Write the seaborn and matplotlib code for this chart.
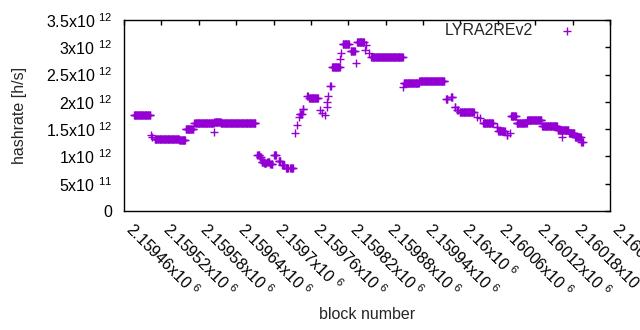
import numpy as np
import matplotlib
matplotlib.use("Agg")
from matplotlib import pyplot as plt
import seaborn as sns

# hashrate plateaus: block range (start..end inclusive) and hashrate in units of 1e12 h/s
seg_start = [2159476, 2159503, 2159505, 2159509, 2159549, 2159559, 2159573, 2159605, 2159605, 2159615,
             2159674, 2159678, 2159681, 2159685, 2159690, 2159695, 2159701, 2159708, 2159714, 2159720, 2159727,
             2159735, 2159737, 2159741, 2159742, 2159747, 2159754, 2159757, 2159774, 2159778, 2159782,
             2159785, 2159786, 2159787, 2159791, 2159794, 2159806, 2159809, 2159811, 2159824, 2159833,
             2159834, 2159847, 2159849, 2159853, 2159857, 2159908, 2159909, 2159934, 2159977, 2159985,
             2159991, 2159995, 2159999, 2160026, 2160031, 2160036, 2160058, 2160061, 2160074, 2160080,
             2160081, 2160090, 2160107, 2160131, 2160156, 2160163, 2160174, 2160184, 2160194]
seg_end = [2159502, 2159503, 2159505, 2159548, 2159558, 2159571, 2159604, 2159615, 2159605, 2159671,
           2159677, 2159680, 2159684, 2159688, 2159693, 2159698, 2159704, 2159711, 2159717, 2159723, 2159731,
           2159735, 2159737, 2159741, 2159745, 2159748, 2159755, 2159771, 2159774, 2159778, 2159782,
           2159785, 2159786, 2159787, 2159792, 2159806, 2159806, 2159809, 2159821, 2159830, 2159833,
           2159845, 2159847, 2159849, 2159853, 2159907, 2159908, 2159933, 2159974, 2159979, 2159987,
           2159992, 2159996, 2160021, 2160026, 2160031, 2160052, 2160059, 2160071, 2160075, 2160080,
           2160089, 2160106, 2160130, 2160155, 2160173, 2160163, 2160183, 2160193, 2160196]
seg_rate = [1.754, 1.387, 1.356, 1.325, 1.292, 1.503, 1.607, 1.636, 1.442, 1.618,
            1.026, 0.984, 0.903, 0.874, 0.903, 0.861, 1.026, 0.922, 0.843, 0.793, 0.782,
            1.424, 1.570, 1.728, 1.772, 1.864, 2.107, 2.065, 1.851, 1.801, 1.759,
            1.911, 2.003, 2.107, 2.291, 2.644, 2.780, 2.890, 3.060, 2.937, 2.707,
            3.091, 2.950, 3.042, 2.890, 2.817, 2.278, 2.340, 2.377, 2.052, 2.084,
            1.900, 1.851, 1.814, 1.728, 1.699, 1.607, 1.545, 1.461, 1.393, 1.435,
            1.732, 1.618, 1.662, 1.552, 1.484, 1.362, 1.424, 1.351, 1.270]

x_ticks = [2159460 + 60 * i for i in range(14)]
x_ticklabels = ["2.15946", "2.15952", "2.15958", "2.15964", "2.1597", "2.15976", "2.15982",
                "2.15988", "2.15994", "2.16", "2.16006", "2.16012", "2.16018", "2.16024"]
y_ticks = [0, 0.5e12, 1e12, 1.5e12, 2e12, 2.5e12, 3e12, 3.5e12]
y_ticklabels = ["0", "5x10 $^{11}$", "1x10 $^{12}$", "1.5x10 $^{12}$", "2x10 $^{12}$",
                "2.5x10 $^{12}$", "3x10 $^{12}$", "3.5x10 $^{12}$"]

blocks = []
rates = []
for s, e, r in zip(seg_start, seg_end, seg_rate):
    for b in range(s, e + 1):
        blocks.append(b)
        rates.append(r * 1e12)

sns.set_style("white")
plt.rcParams['font.family'] = ['Liberation Sans', 'DejaVu Sans']
plt.rcParams['mathtext.fontset'] = 'custom'
plt.rcParams['mathtext.rm'] = 'Liberation Sans'
plt.rcParams['mathtext.it'] = 'Liberation Sans:italic'
fs = 11.5

fig = plt.figure(figsize=(6.4, 3.3), dpi=100)
ax = fig.add_axes([124 / 640, 1 - 211 / 330, 486 / 640, 191 / 330])

sns.scatterplot(x=blocks, y=rates, marker='+', color='#9400d3', s=30, linewidth=1,
                label='LYRA2REv2', ax=ax)

ax.set_xlim(2159460, 2160240)
ax.set_ylim(0, 3.5e12)
ax.set_xticks(x_ticks)
ax.set_xticklabels([t + "x10 $^{6}$" for t in x_ticklabels], rotation=-45,
                   ha='left', va='baseline', rotation_mode='anchor')
ax.set_yticks(y_ticks)
ax.set_yticklabels(y_ticklabels)
ax.tick_params(direction='in', top=True, right=True, length=3.6, width=1, colors='black',
               labelsize=fs)
ax.tick_params(axis='y', pad=8.5)
ax.tick_params(axis='x', pad=14.4)
for sp in ax.spines.values():
    sp.set_color('black')
    sp.set_linewidth(1)

ax.set_xlabel('block number', fontsize=fs)
ax.set_ylabel('hashrate [h/s]', fontsize=fs)
ax.xaxis.set_label_coords(0.5, -0.505)
ax.yaxis.set_label_coords(-0.2, 0.5)

ax.legend(loc='upper right', bbox_to_anchor=(0.968, 1.016), borderaxespad=0, frameon=False,
          markerfirst=False, handlelength=2.65, handletextpad=0.8, fontsize=fs)

plt.savefig('out.png', dpi=100)
